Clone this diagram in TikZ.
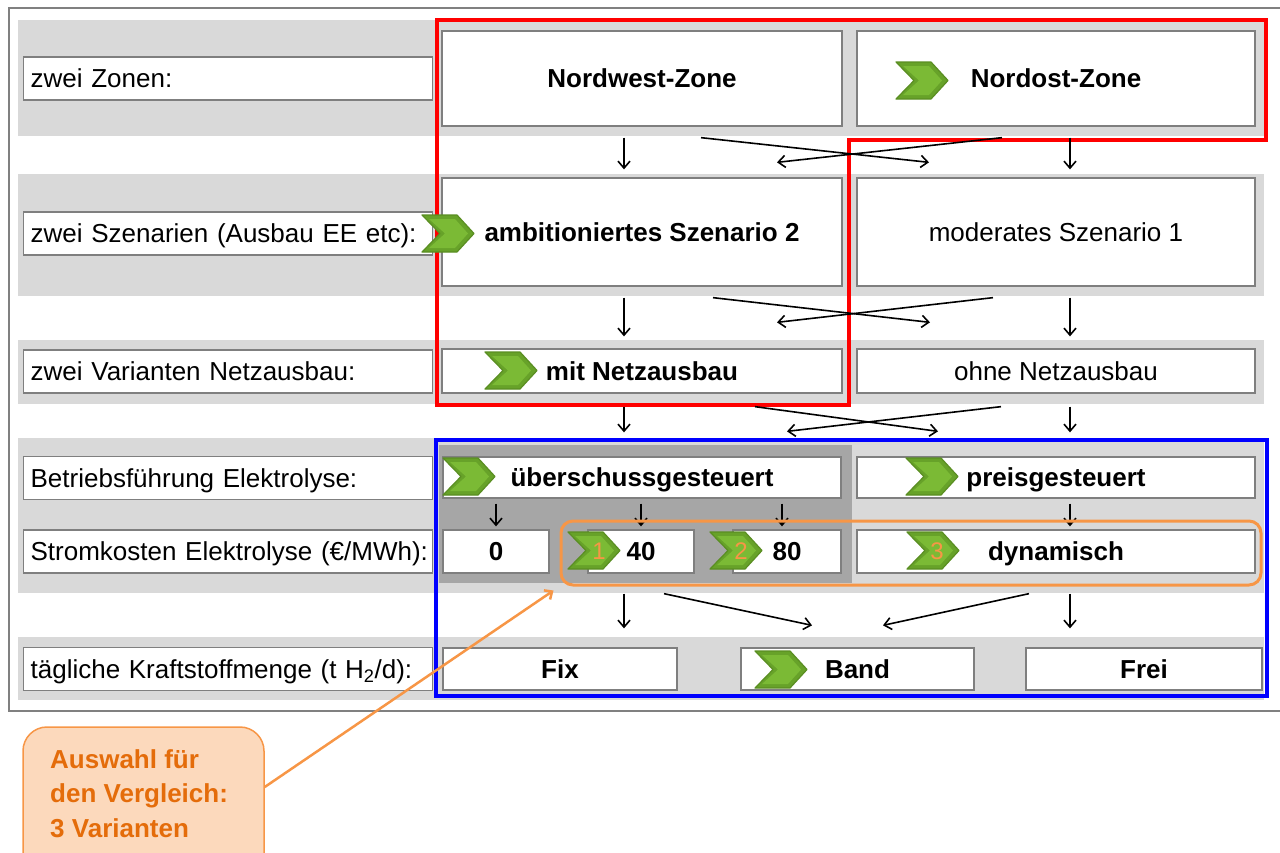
\documentclass[tikz,border=0pt]{standalone}
\usepackage{fontspec}
\setmainfont{Liberation Sans}
\usetikzlibrary{arrows.meta,calc}

\definecolor{bandgray}{HTML}{D9D9D9}
\definecolor{deepgray}{HTML}{A6A6A6}
\definecolor{boxgray}{HTML}{7F7F7F}
\definecolor{framegray}{HTML}{808080}
\definecolor{zonered}{HTML}{FF0000}
\definecolor{runblue}{HTML}{0000FF}
\definecolor{selorange}{HTML}{F79646}
\definecolor{txtorange}{HTML}{E46C0A}
\definecolor{calloutfill}{HTML}{FCD9BC}
\definecolor{chevgreen}{HTML}{67A229}
\definecolor{chevlight}{HTML}{7BBA35}
\definecolor{chevdark}{HTML}{5A8E22}

\newcommand\dgfont{\fontsize{26}{30}\selectfont}

\begin{document}
\begin{tikzpicture}[x=1pt,y=-1pt,
  lbl/.style={draw=boxgray, fill=white, line width=1.3pt, anchor=west,
    text width=409pt, inner xsep=0pt, inner ysep=0pt, minimum height=43pt,
    align=left, font=\dgfont, text height=22pt, text depth=3.4pt,
    execute at begin node=\hspace*{7pt}},
  cbox/.style={draw=boxgray, fill=white, line width=1.3pt, inner sep=0pt,
    font=\dgfont\bfseries, text height=22pt, text depth=3.4pt},
  cboxreg/.style={cbox, font=\dgfont},
  arr/.style={-{Straight Barb[length=7pt,width=12pt]}, line width=1.6pt, black},
  numtxt/.style={text=selorange, font=\fontsize{24}{28}\selectfont, inner sep=0pt},
  chevron/.pic={
    \filldraw[fill=chevgreen, draw=chevdark, line width=1.2pt, line join=round]
      (0,0) -- (35,0) -- (52,18.5) -- (35,37) -- (0,37) -- (18,18.5) -- cycle;
    \fill[chevlight]
      (7,4) -- (33,4) -- (46,18.5) -- (33,33) -- (7,33) -- (23,18.5) -- cycle;
  }]
\useasboundingbox (0,0) rectangle (1280,852);
\clip (0,0) rectangle (1280,852);

% outer frame
\draw[framegray, line width=1.5pt] (9,8) rectangle (1300,711);

% row bands
\fill[bandgray] (18,20) rectangle (1264,136);
\fill[bandgray] (18,174) rectangle (1264,296);
\fill[bandgray] (18,340) rectangle (1264,404);
\fill[bandgray] (18,438) rectangle (1264,593);
\fill[bandgray] (18,637) rectangle (1264,700);
\fill[deepgray] (439,445) rectangle (852,583);

% row labels
\node[lbl] (lzone)  at (23,78.5)  {zwei Zonen:};
\node[lbl] (lszen)  at (23,233.5) {zwei Szenarien (Ausbau EE etc):};
\node[lbl] (lnetz)  at (23,371.5) {zwei Varianten Netzausbau:};
\node[lbl] (lbetr)  at (23,478)   {Betriebsführung Elektrolyse:};
\node[lbl] (lstrom) at (23,551.5) {Stromkosten Elektrolyse (€/MWh):};
\node[lbl] (ltag)   at (23,669)   {tägliche Kraftstoffmenge (t H\textsubscript{2}/d):};

% option boxes
\node[cbox, minimum width=400pt, minimum height=95pt] (nw) at (642,78.5) {Nordwest-Zone};
\node[cbox, minimum width=398pt, minimum height=95pt] (no) at (1056,78.5) {Nordost-Zone};
\node[cbox, minimum width=400pt, minimum height=108pt] (sz2) at (642,232) {ambitioniertes Szenario 2};
\node[cboxreg, minimum width=398pt, minimum height=108pt] (sz1) at (1056,232) {moderates Szenario 1};
\node[cbox, minimum width=400pt, minimum height=44pt] (mit) at (642,371) {mit Netzausbau};
\node[cboxreg, minimum width=398pt, minimum height=44pt] (ohne) at (1056,371) {ohne Netzausbau};
\node[cbox, minimum width=398pt, minimum height=41pt] (ueb) at (642,477.5) {überschussgesteuert};
\node[cbox, minimum width=398pt, minimum height=41pt] (preis) at (1056,477.5) {preisgesteuert};
\node[cbox, minimum width=106pt, minimum height=43pt] (c0) at (496,551.5) {0};
\node[cbox, minimum width=106pt, minimum height=43pt] (c40) at (641,551.5) {40};
\node[cbox, minimum width=108pt, minimum height=43pt] (c80) at (787,551.5) {80};
\node[cbox, minimum width=398pt, minimum height=43pt] (dyn) at (1056,551.5) {dynamisch};
\node[cbox, minimum width=234pt, minimum height=42pt] (fix) at (560,669) {Fix};
\node[cbox, minimum width=233pt, minimum height=42pt] (band) at (857.5,669) {Band};
\node[cbox, minimum width=236pt, minimum height=42pt] (frei) at (1144,669) {Frei};

% selected path frames
\draw[zonered, line width=4pt, line join=miter]
  (436.5,20) -- (1266,20) -- (1266,140) -- (849,140) -- (849,405) -- (436.5,405) -- cycle;
\draw[runblue, line width=4pt] (436,440) rectangle (1267,696);

% chevron markers
\pic at (896,62) {chevron};
\pic at (422,215) {chevron};
\pic at (485,352) {chevron};
\pic at (443,458) {chevron};
\pic at (906,458) {chevron};
\pic at (568,532) {chevron};
\pic at (710,532) {chevron};
\pic at (907,532) {chevron};
\pic at (755,651) {chevron};
\node[numtxt] (n1) at (599,551) {1};
\node[numtxt] (n2) at (741,551) {2};
\node[numtxt] (n3) at (937,551) {3};

% zones -> scenarios
\draw[arr] ([xshift=-18pt,yshift=-11pt]nw.south) -- ([xshift=-18pt,yshift=8pt]sz2.north);
\draw[arr] ([xshift=14pt,yshift=-11pt]no.south) -- ([xshift=14pt,yshift=8pt]sz1.north);
\draw[arr] ([xshift=59pt,yshift=-11pt]nw.south) -- ([xshift=-127pt,yshift=15pt]sz1.north);
\draw[arr] ([xshift=-54pt,yshift=-11pt]no.south) -- ([xshift=135pt,yshift=15pt]sz2.north);

% scenarios -> grid variants
\draw[arr] ([xshift=-18pt,yshift=-11pt]sz2.south) -- ([xshift=-18pt,yshift=12pt]mit.north);
\draw[arr] ([xshift=14pt,yshift=-11pt]sz1.south) -- ([xshift=14pt,yshift=12pt]ohne.north);
\draw[arr] ([xshift=71pt,yshift=-11pt]sz2.south) -- ([xshift=-126pt,yshift=26pt]ohne.north);
\draw[arr] ([xshift=-63pt,yshift=-11pt]sz1.south) -- ([xshift=135pt,yshift=26pt]mit.north);

% grid variants -> operation mode
\draw[arr] ([xshift=-18pt,yshift=-13pt]mit.south) -- ([xshift=-18pt,yshift=24pt]ueb.north);
\draw[arr] ([xshift=14pt,yshift=-13pt]ohne.south) -- ([xshift=14pt,yshift=24pt]preis.north);
\draw[arr] ([xshift=113pt,yshift=-13pt]mit.south) -- ([xshift=-118pt,yshift=25pt]preis.north);
\draw[arr] ([xshift=-55pt,yshift=-13pt]ohne.south) -- ([xshift=145pt,yshift=25pt]ueb.north);

% operation mode -> electricity cost
\draw[arr] ([yshift=-5pt]ueb.south -| c0.north) -- ([yshift=3pt]c0.north);
\draw[arr] ([yshift=-5pt]ueb.south -| c40.north) -- ([yshift=3pt]c40.north);
\draw[arr] ([xshift=-5pt,yshift=-5pt]ueb.south -| c80.north) -- ([xshift=-5pt,yshift=3pt]c80.north);
\draw[arr] ([xshift=14pt,yshift=-5pt]preis.south) -- ([xshift=14pt,yshift=3pt]dyn.north);

% electricity cost -> daily fuel quantity
\draw[arr] ([xshift=-17pt,yshift=-20pt]c40.south) -- ([xshift=64pt,yshift=19pt]fix.north);
\draw[arr] ([xshift=14pt,yshift=-20pt]dyn.south) -- ([xshift=-74pt,yshift=19pt]frei.north);
\draw[arr] ([xshift=23pt,yshift=-20pt]c40.south) -- ([xshift=-45.5pt,yshift=22pt]band.north);
\draw[arr] ([xshift=-27pt,yshift=-20pt]dyn.south) -- ([xshift=25.5pt,yshift=22pt]band.north);

% selected variants
\node[draw=selorange, line width=3pt, rounded corners=12pt, minimum width=700pt,
  minimum height=64pt, inner sep=0pt] (sel) at (911,553) {};

% callout
\node[draw=selorange, fill=calloutfill, line width=1.5pt, rounded corners=24pt,
  minimum width=241pt, minimum height=160pt, inner sep=0pt] (callout) at (143.5,807) {};
\node[anchor=north west, inner sep=0pt, align=left, text=txtorange,
  font=\fontsize{26}{34.5}\selectfont\bfseries] (calltxt) at (50,749)
  {Auswahl für\\den Vergleich:\\3 Varianten};
\draw[selorange, line width=2.5pt, -{Straight Barb[length=6pt,width=11pt]}]
  ([yshift=20pt]callout.east) -- ([xshift=-6pt,yshift=-4pt]sel.south west);
\end{tikzpicture}
\end{document}
